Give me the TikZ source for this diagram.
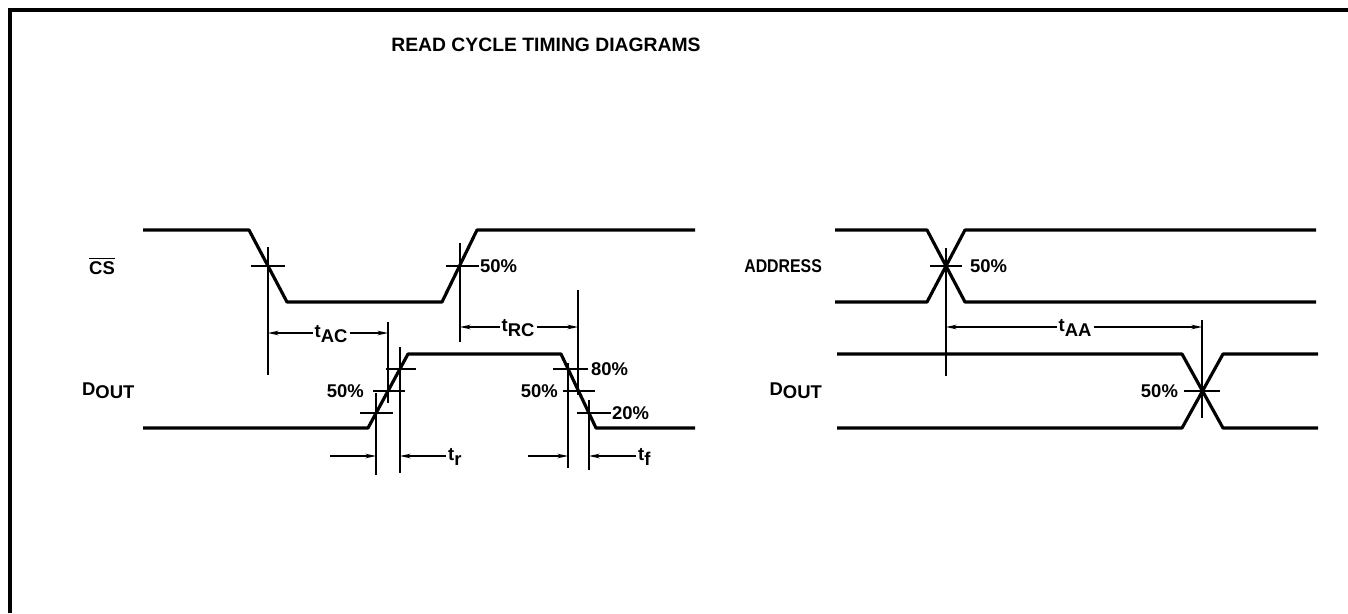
\documentclass[tikz,border=0pt]{standalone}
\usepackage{fontspec}
\setmainfont{Liberation Sans}
\usetikzlibrary{arrows.meta}
\newcommand{\lowsub}[1]{\raisebox{-0.28em}{#1}}
\newcommand{\dout}{D\raisebox{-0.14em}{\fontsize{10.5}{12}\selectfont OUT}}
\tikzset{
  wave/.style={line width=1.8pt,line join=round},
  tick/.style={line width=0.85pt},
  dimtip/.style={line width=0.85pt,-{Stealth[length=6pt,width=2.6pt]}},
  lbl/.style={font=\fontsize{10.5}{12}\selectfont\bfseries,inner sep=1pt},
}

\begin{document}
\begin{tikzpicture}[x=0.02cm,y=0.02cm]
\path[use as bounding box] (0,0) rectangle (1348,613);
\fill[white] (0,0) rectangle (1348,613);
\draw[line width=2pt] (10,0) -- (10,603) -- (1348,603);
\node[lbl,font=\fontsize{11}{13}\selectfont\bfseries] (title) at (546,568) {READ CYCLE TIMING DIAGRAMS};

% chip select
\draw[wave] (143,383) -- (249,383) -- (287,311) -- (442,311) -- (477,383) -- (695,383);
\node[lbl] (cs) at (102,347) {$\overline{\mbox{CS}}$};
\draw[tick] (251,347) -- (285,347);
\draw[tick] (268,366) -- (268,238);
\draw[tick] (446,347) -- (479,347);
\draw[tick] (460,370) -- (460,271);
\node[lbl,anchor=west] (csfifty) at (478,347) {50\%};

% t_AC and t_RC
\coordinate (acL) at (268,280);
\coordinate (acR) at (388,280);
\node[lbl,anchor=base] (tac) at (331,276) {t\lowsub{AC}};
\draw[dimtip] (tac.west |- acL) -- (acL);
\draw[dimtip] (tac.east |- acR) -- (acR);
\coordinate (rcL) at (460,286);
\coordinate (rcR) at (578,286);
\node[lbl,anchor=base] (trc) at (518,282) {t\lowsub{RC}};
\draw[dimtip] (trc.west |- rcL) -- (rcL);
\draw[dimtip] (trc.east |- rcR) -- (rcR);

% data out, left
\draw[wave] (143,185) -- (368,185) -- (408,259) -- (561,259) -- (596,185) -- (695,185);
\node[lbl,anchor=west] (doutl) at (80,222) {\dout};
\draw[tick] (360,200) -- (393,200);
\draw[tick] (376,220) -- (376,138);
\draw[tick] (373,222) -- (405,222);
\draw[tick] (388,291) -- (388,210);
\draw[tick] (386,244) -- (416,244);
\draw[tick] (400,266) -- (400,140);
\node[lbl,anchor=east] (risefifty) at (366,222) {50\%};
\draw[tick] (553,244) -- (588,244);
\draw[tick] (568,250) -- (568,145);
\node[lbl,anchor=west] (falleighty) at (589,244) {80\%};
\draw[tick] (563,222) -- (595,222);
\draw[tick] (578,323) -- (578,218);
\node[lbl,anchor=east] (fallfifty) at (560,222) {50\%};
\draw[tick] (577,200) -- (611,200);
\draw[tick] (589,213) -- (589,143);
\node[lbl,anchor=west] (falltwenty) at (610,200) {20\%};

% t_r and t_f
\coordinate (trL) at (376,157);
\coordinate (trR) at (400,157);
\coordinate (trS) at (330,157);
\draw[dimtip] (trS) -- (trL);
\node[lbl,anchor=base west] (tr) at (446,153) {t\lowsub{r}};
\draw[dimtip] (tr.west |- trR) -- (trR);
\coordinate (tfL) at (568,157);
\coordinate (tfR) at (589,157);
\coordinate (tfS) at (528,157);
\draw[dimtip] (tfS) -- (tfL);
\node[lbl,anchor=base west] (tf) at (636,153) {t\lowsub{f}};
\draw[dimtip] (tf.west |- tfR) -- (tfR);

% address
\draw[wave] (835,383) -- (927,383) -- (965,311) -- (1316,311);
\draw[wave] (835,311) -- (927,311) -- (965,383) -- (1316,383);
\node[lbl,anchor=east] (addr) at (824,347) {\scalebox{0.86}[1]{ADDRESS}};
\draw[tick] (930,347) -- (962,347);
\draw[tick] (946,365) -- (946,237);
\node[lbl,anchor=west] (addrfifty) at (968,347) {50\%};

% t_AA
\coordinate (aaL) at (946,286);
\coordinate (aaR) at (1202,286);
\node[lbl,anchor=base] (taa) at (1075,282) {t\lowsub{AA}};
\draw[dimtip] (taa.west |- aaL) -- (aaL);
\draw[dimtip] (taa.east |- aaR) -- (aaR);

% data out, right
\draw[wave] (837,259) -- (1182,259) -- (1223,185) -- (1318,185);
\draw[wave] (837,185) -- (1182,185) -- (1223,259) -- (1318,259);
\node[lbl,anchor=east] (doutr) at (824,222) {\dout};
\draw[tick] (1184,222) -- (1220,222);
\draw[tick] (1202,293) -- (1202,195);
\node[lbl,anchor=east] (doutfifty) at (1180,222) {50\%};
\end{tikzpicture}
\end{document}
